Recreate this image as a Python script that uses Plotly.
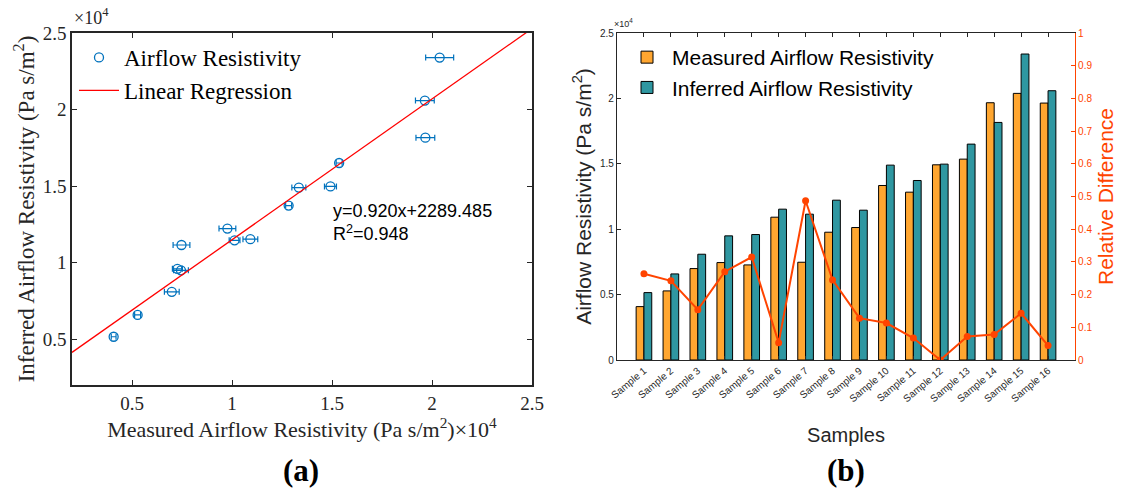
import plotly.graph_objects as go

samples = [f"Sample {i}" for i in range(1, 17)]
measured = [4082, 5281, 6990, 7449, 7270, 10918, 7474, 9770, 10128, 13342, 12832, 14923, 15357, 19668, 20383, 19643]
inferred = [5153, 6582, 8087, 9490, 9592, 11531, 11148, 12219, 11454, 14898, 13724, 14974, 16505, 18163, 23393, 20587]
meas_err = [120, 150, 370, 370, 250, 370, 420, 420, 270, 350, 150, 300, 150, 470, 700, 470]
rel_diff = [0.264, 0.242, 0.154, 0.270, 0.315, 0.053, 0.487, 0.245, 0.128, 0.113, 0.067, 0.0, 0.072, 0.078, 0.143, 0.044]
slope, intercept = 0.920, 2289.485
reg_x = [2000, 25000]
reg_y = [slope * v + intercept for v in reg_x]

W, H = 1128, 493
def px(x): return x / W
def py(y): return 1 - y / H

SERIF = "Liberation Serif"
SANS = "Liberation Sans"
BLUE = "#0072BD"
ORANGE = "#FFA630"
TEAL = "#2F97A1"
RED = "#FF4400"

fig = go.Figure()

# ---- panel (a)
fig.add_trace(go.Scatter(
    x=measured, y=inferred, mode="markers", name="Airflow Resistivity",
    marker=dict(symbol="circle-open", size=9, color=BLUE, line=dict(width=1.3)),
    error_x=dict(type="data", array=meas_err, color=BLUE, thickness=1.2, width=3),
    xaxis="x", yaxis="y", legend="legend"))
fig.add_trace(go.Scatter(
    x=reg_x, y=reg_y, mode="lines", name="Linear Regression",
    line=dict(color="#FF0000", width=1.3), xaxis="x", yaxis="y", legend="legend"))

# ---- panel (b)
xs = list(range(1, 17))
fig.add_trace(go.Bar(x=xs, y=measured, name="Measured Airflow Resistivity",
                     marker=dict(color=ORANGE, line=dict(color="#000000", width=1)),
                     xaxis="x2", yaxis="y2", legend="legend2", offsetgroup="m"))
fig.add_trace(go.Bar(x=xs, y=inferred, name="Inferred Airflow Resistivity",
                     marker=dict(color=TEAL, line=dict(color="#000000", width=1)),
                     xaxis="x2", yaxis="y2", legend="legend2", offsetgroup="i"))
fig.add_trace(go.Scatter(x=xs, y=rel_diff, mode="lines+markers", name="Relative Difference",
                         line=dict(color=RED, width=2), marker=dict(color=RED, size=7),
                         xaxis="x2", yaxis="y3", showlegend=False))

axa = dict(showline=True, linecolor="#262626", linewidth=1.5, mirror="ticks",
           ticks="inside", ticklen=5, tickcolor="#262626", showgrid=False, zeroline=False,
           automargin=False, tickfont=dict(family=SERIF, size=19, color="#262626"))
ticks_a = [5000, 10000, 15000, 20000, 25000]
ticktext_a = ["0.5", "1", "1.5", "2", "2.5"]

axb = dict(showline=True, linecolor="#262626", linewidth=1.2, ticks="inside", ticklen=4,
           tickcolor="#262626", showgrid=False, zeroline=False, automargin=False,
           tickfont=dict(family=SANS, size=10, color="#262626"))

fig.update_layout(
    width=W, height=H, margin=dict(l=0, r=0, t=0, b=0),
    paper_bgcolor="white", plot_bgcolor="white",
    barmode="group", bargap=0.42, bargroupgap=0,
    xaxis=dict(axa, domain=[px(72), px(532)], range=[2000, 25000], anchor="y",
               tickvals=ticks_a, ticktext=ticktext_a,
               title=dict(text="Measured Airflow Resistivity (Pa s/m<sup>2</sup>)×10<sup>4</sup>",
                          font=dict(family=SERIF, size=22, color="#262626"), standoff=2)),
    yaxis=dict(axa, domain=[py(385), py(33)], range=[2000, 25000], anchor="x",
               tickvals=ticks_a, ticktext=ticktext_a,
               title=dict(text="Inferred Airflow Resistivity (Pa s/m<sup>2</sup>)",
                          font=dict(family=SERIF, size=23, color="#262626"), standoff=2)),
    xaxis2=dict(axb, domain=[px(617), px(1075)], range=[0, 17], anchor="y2", mirror="ticks",
                tickvals=xs, ticktext=samples, tickangle=-40,
                tickfont=dict(family=SANS, size=10, color="#262626"),
                title=dict(text="Samples", font=dict(family=SANS, size=20, color="#262626"), standoff=24)),
    yaxis2=dict(axb, domain=[py(360), py(33)], range=[0, 25000], anchor="x2",
                tickvals=[0, 5000, 10000, 15000, 20000, 25000],
                ticktext=["0", "0.5", "1", "1.5", "2", "2.5"],
                title=dict(text="Airflow Resistivity (Pa s/m<sup>2</sup>)",
                           font=dict(family=SANS, size=21, color="#262626"), standoff=2)),
    yaxis3=dict(range=[0, 1], overlaying="y2", anchor="x2", side="right", automargin=False,
                showline=True, linecolor=RED, linewidth=1.2, ticks="inside", ticklen=4,
                tickcolor=RED, showgrid=False, zeroline=False,
                tickvals=[i / 10 for i in range(11)],
                ticktext=["0", "0.1", "0.2", "0.3", "0.4", "0.5", "0.6", "0.7", "0.8", "0.9", "1"],
                tickfont=dict(family=SANS, size=10, color=RED),
                title=dict(text="Relative Difference", font=dict(family=SANS, size=21, color=RED), standoff=6)),
    legend=dict(x=px(74), y=py(36), xanchor="left", yanchor="top", bgcolor="rgba(0,0,0,0)",
                font=dict(family=SERIF, size=23, color="#000000"), tracegroupgap=0, itemwidth=40),
    legend2=dict(x=px(622), y=py(37), xanchor="left", yanchor="top", bgcolor="rgba(0,0,0,0)",
                 font=dict(family=SANS, size=21, color="#000000"), tracegroupgap=0, itemwidth=40),
    annotations=[
        dict(text="y=0.920x+2289.485<br>R<sup>2</sup>=0.948", x=px(331), y=py(199), xref="paper", yref="paper",
             xanchor="left", yanchor="top", showarrow=False, align="left",
             font=dict(family=SANS, size=18, color="#000000")),
        dict(text="×10<sup>4</sup>", x=px(72), y=py(30), xref="paper", yref="paper",
             xanchor="left", yanchor="bottom", showarrow=False,
             font=dict(family=SERIF, size=18, color="#262626")),
        dict(text="×10<sup>4</sup>", x=px(612), y=py(31), xref="paper", yref="paper",
             xanchor="left", yanchor="bottom", showarrow=False,
             font=dict(family=SANS, size=9, color="#262626")),
        dict(text="<b>(a)</b>", x=px(301), y=py(470), xref="paper", yref="paper",
             xanchor="center", yanchor="middle", showarrow=False,
             font=dict(family=SERIF, size=31, color="#000000")),
        dict(text="<b>(b)</b>", x=px(846), y=py(470), xref="paper", yref="paper",
             xanchor="center", yanchor="middle", showarrow=False,
             font=dict(family=SERIF, size=31, color="#000000")),
    ],
)

fig.write_html("out.html", config={"displayModeBar": False},
               post_script="document.body.style.margin='0px';")
